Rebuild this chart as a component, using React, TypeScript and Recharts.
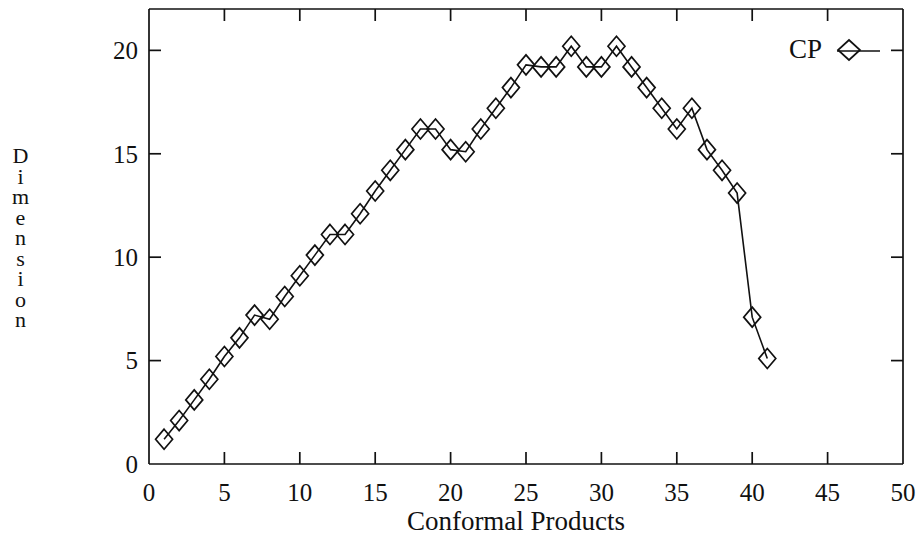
import React from 'react';
import { LineChart, Line, XAxis, YAxis, Legend, ReferenceLine } from 'recharts';

const xValues = [1, 2, 3, 4, 5, 6, 7, 8, 9, 10, 11, 12, 13, 14, 15, 16, 17, 18, 19, 20, 21, 22, 23, 24, 25, 26, 27, 28, 29, 30, 31, 32, 33, 34, 35, 36, 37, 38, 39, 40, 41];
const cpValues = [1.2, 2.1, 3.1, 4.1, 5.2, 6.1, 7.2, 7.0, 8.1, 9.1, 10.1, 11.1, 11.1, 12.1, 13.2, 14.2, 15.2, 16.2, 16.2, 15.2, 15.1, 16.2, 17.2, 18.2, 19.3, 19.2, 19.2, 20.2, 19.2, 19.2, 20.2, 19.2, 18.2, 17.2, 16.2, 17.2, 15.2, 14.2, 13.1, 7.1, 5.1];
const xTicks = [0, 5, 10, 15, 20, 25, 30, 35, 40, 45, 50];
const yTicks = [0, 5, 10, 15, 20];
const seriesName = 'CP';
const xLabel = 'Conformal Products';
const yLabel = 'Dimension';

const data = xValues.map((x, i) => ({ x, cp: cpValues[i] }));
const innerXTicks = xTicks.slice(1, -1);
const innerYTicks = yTicks.slice(1);

const FONT = '"Liberation Serif", "Times New Roman", serif';
const INK = '#111';
const TICK_LEN = 12;
const SW = 1.7;

const BottomTick = (p: any) => (
  <text x={p.x} y={p.y + 37} textAnchor="middle" fontFamily={FONT} fontSize={25} fill={INK}>
    {p.payload.value}
  </text>
);
const LeftTick = (p: any) => (
  <text x={p.x - 11} y={p.y} dy="0.35em" textAnchor="end" fontFamily={FONT} fontSize={25} fill={INK}>
    {p.payload.value}
  </text>
);

// inward tick marks at both ends of a vertical reference line (bottom & top frame)
const VTicks = (p: any) => {
  const top = Math.min(p.y1, p.y2);
  const bot = Math.max(p.y1, p.y2);
  return (
    <g>
      <line x1={p.x1} y1={bot} x2={p.x1} y2={bot - TICK_LEN} stroke={INK} strokeWidth={SW} />
      <line x1={p.x1} y1={top} x2={p.x1} y2={top + TICK_LEN} stroke={INK} strokeWidth={SW} />
    </g>
  );
};
// inward tick marks at both ends of a horizontal reference line (left & right frame)
const HTicks = (p: any) => {
  const left = Math.min(p.x1, p.x2);
  const right = Math.max(p.x1, p.x2);
  return (
    <g>
      <line x1={left} y1={p.y1} x2={left + TICK_LEN} y2={p.y1} stroke={INK} strokeWidth={SW} />
      <line x1={right} y1={p.y1} x2={right - TICK_LEN} y2={p.y1} stroke={INK} strokeWidth={SW} />
    </g>
  );
};

const Diamond = (p: any) => {
  const { cx, cy } = p;
  if (cx == null || cy == null) return <g key={p.key} />;
  const hw = 8.5;
  const hh = 10;
  return (
    <polygon
      key={p.key}
      points={`${cx},${cy - hh} ${cx + hw},${cy} ${cx},${cy + hh} ${cx - hw},${cy}`}
      fill="none"
      stroke={INK}
      strokeWidth={SW}
    />
  );
};

const DimLabel = (props: any) => {
  const vb = props.viewBox || { x: 0, y: 9, width: 149, height: 455 };
  const cx = vb.x + 20.5;
  const cy = vb.y + vb.height / 2 - 1;
  return (
    <text
      x={cx}
      y={cy}
      fontFamily={FONT}
      fontSize={22}
      fill={INK}
      textAnchor="middle"
      writingMode="vertical-rl"
      letterSpacing={-4.5}
      style={{ textOrientation: 'upright' as any, writingMode: 'vertical-rl' as any }}
    >
      {yLabel}
    </text>
  );
};

const LegendContent = () => (
  <svg width={130} height={40} style={{ display: 'block' }}>
    <text x={52} y={28} textAnchor="end" fontFamily={FONT} fontSize={27} fill={INK}>
      {seriesName}
    </text>
    <line x1={67} y1={21} x2={110} y2={21} stroke={INK} strokeWidth={SW} />
    <polygon points="79,10 90,20 79,30 68,20" fill="none" stroke={INK} strokeWidth={SW} />
  </svg>
);

export default function App() {
  return (
    <div style={{ position: 'absolute', left: 0, top: 0, width: 917, height: 539, background: '#fff' }}>
      <LineChart width={917} height={539} data={data} margin={{ top: 8, right: 13, bottom: 0, left: 0 }}>
        <XAxis
          xAxisId="bottom"
          dataKey="x"
          type="number"
          domain={[0, 50]}
          ticks={xTicks}
          interval={0}
          height={75}
          orientation="bottom"
          tickSize={0}
          tickMargin={0}
          tickLine={false}
          axisLine={{ stroke: INK, strokeWidth: SW }}
          tick={<BottomTick />}
          label={{ value: xLabel, position: 'insideBottom', offset: 9, dx: -10, fontFamily: FONT, fontSize: 27, fill: INK }}
        />
        <XAxis
          xAxisId="top"
          dataKey="x"
          type="number"
          domain={[0, 50]}
          ticks={xTicks}
          interval={0}
          height={1}
          orientation="top"
          tickSize={0}
          tickLine={false}
          axisLine={{ stroke: INK, strokeWidth: SW }}
          tick={false}
        />
        <YAxis
          yAxisId="left"
          type="number"
          domain={[0, 22]}
          ticks={yTicks}
          interval={0}
          width={149}
          orientation="left"
          tickSize={0}
          tickMargin={0}
          tickLine={false}
          axisLine={{ stroke: INK, strokeWidth: SW }}
          tick={<LeftTick />}
          label={(props: any) => <DimLabel {...props} />}
        />
        <YAxis
          yAxisId="right"
          type="number"
          domain={[0, 22]}
          ticks={yTicks}
          interval={0}
          width={1}
          orientation="right"
          tickSize={0}
          tickLine={false}
          axisLine={{ stroke: INK, strokeWidth: SW }}
          tick={false}
        />
        {innerXTicks.map((v) => (
          <ReferenceLine key={`vx${v}`} x={v} xAxisId="bottom" yAxisId="left" shape={VTicks} />
        ))}
        {innerYTicks.map((v) => (
          <ReferenceLine key={`hy${v}`} y={v} xAxisId="bottom" yAxisId="left" shape={HTicks} />
        ))}
        <Legend
          layout="horizontal"
          verticalAlign="middle"
          align="center"
          content={<LegendContent />}
          wrapperStyle={{ position: 'absolute', left: 770, top: 30, width: 130, height: 40 }}
        />
        <Line
          xAxisId="bottom"
          yAxisId="left"
          type="linear"
          dataKey="cp"
          name={seriesName}
          stroke={INK}
          strokeWidth={1.6}
          dot={Diamond}
          activeDot={false}
          isAnimationActive={false}
        />
      </LineChart>
    </div>
  );
}
